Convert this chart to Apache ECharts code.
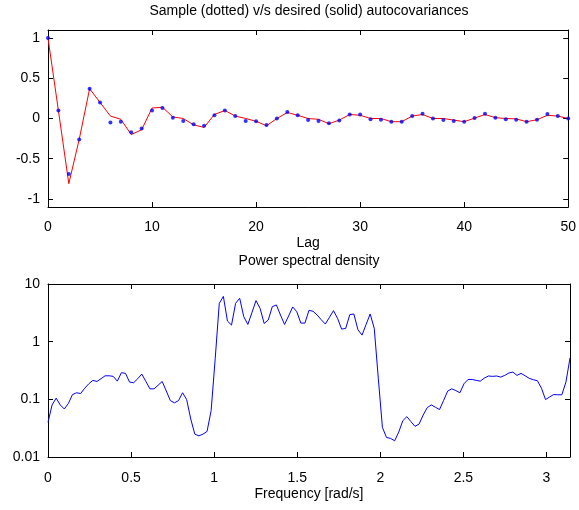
<!DOCTYPE html>
<html>
<head>
<meta charset="utf-8">
<script src="https://cdn.jsdelivr.net/npm/echarts@6/dist/echarts.min.js"></script>
<style>
  html, body { margin: 0; padding: 0; background: #fff; }
  #chart { width: 579px; height: 510px; }
</style>
</head>
<body>
<div id="chart"></div>
<script>
// sample autocovariance (blue dots), lags 0..50
const sampleAcov = [
  1, 0.10, -0.69, -0.26, 0.37, 0.20, -0.05, -0.04, -0.17, -0.125,
  0.10, 0.13, 0.01, -0.03, -0.07, -0.09, 0.04, 0.10, 0.03, -0.03,
  -0.035, -0.08, 0.0, 0.08, 0.04, -0.02, -0.03, -0.06, -0.025, 0.05,
  0.05, -0.01, -0.015, -0.04, -0.04, 0.03, 0.06, 0.0, -0.02, -0.03,
  -0.04, 0.005, 0.06, 0.01, -0.01, -0.015, -0.04, -0.015, 0.055, 0.03,
  0.0
]
// desired autocovariance (red line)
const desiredAcov = [
  1, 0.10, -0.81, -0.26, 0.37, 0.20, 0.03, -0.01, -0.20, -0.14,
  0.13, 0.14, 0.02, 0.0, -0.08, -0.11, 0.05, 0.10, 0.03, 0.0,
  -0.035, -0.09, 0.0, 0.075, 0.04, 0.0, -0.01, -0.065, -0.02, 0.05,
  0.04, 0.0, 0.0, -0.04, -0.04, 0.03, 0.05, 0.0, 0.0, -0.02,
  -0.04, 0.005, 0.05, 0.01, 0.0, -0.005, -0.04, -0.015, 0.04, 0.03,
  0.0
]
// power spectral density, 129 points on [0, pi]
const psd = [
  0.040, 0.080, 0.105, 0.080, 0.068, 0.085, 0.121, 0.130, 0.126, 0.156,
  0.186, 0.213, 0.204, 0.228, 0.256, 0.256, 0.250, 0.207, 0.290, 0.282,
  0.199, 0.194, 0.228, 0.274, 0.204, 0.152, 0.152, 0.176, 0.204, 0.140,
  0.095, 0.087, 0.095, 0.130, 0.099, 0.0456, 0.0249, 0.0233, 0.0249, 0.0278,
  0.0637, 0.508, 4.63, 6.1, 2.28, 1.94, 4.63, 5.66, 2.71, 1.99,
  3.18, 5.15, 3.79, 2.07, 2.37, 4.05, 4.33, 2.90, 1.99, 2.79,
  4.00, 3.31, 2.10, 2.10, 3.50, 3.36, 2.90, 2.40, 2.02, 2.64,
  3.45, 2.54, 1.65, 1.70, 2.94, 3.02, 1.61, 1.30, 1.99, 3.02,
  1.70, 0.228, 0.0326, 0.0218, 0.0210, 0.0191, 0.027, 0.0426, 0.0501, 0.0410,
  0.0340, 0.0373, 0.0535, 0.0719, 0.0800, 0.0729, 0.0664, 0.0953, 0.139, 0.152,
  0.142, 0.130, 0.186, 0.221, 0.221, 0.213, 0.207, 0.234, 0.254, 0.250,
  0.254, 0.243, 0.260, 0.286, 0.297, 0.260, 0.282, 0.256, 0.231, 0.219,
  0.210, 0.156, 0.099, 0.110, 0.121, 0.120, 0.120, 0.199, 0.522
]
const lagTicks = [0, 10, 20, 30, 40, 50]
const acovTicks = [-1, -0.5, 0, 0.5, 1]
const freqTicks = [0, 0.5, 1, 1.5, 2, 2.5, 3]

const lags = sampleAcov.map((v, i) => i)
const freqs = psd.map((v, i) => i * Math.PI / (psd.length - 1))

const FONT = 'Liberation Sans, Arial, Helvetica, sans-serif'
const FS = 14

// MATLAB style box: ticks inside on all four sides
const boxAxis = (extra) => Object.assign({
  axisLine: { show: true, onZero: false, lineStyle: { color: '#000', width: 1 } },
  axisTick: { show: true, inside: true, length: 5, lineStyle: { color: '#000' } },
  splitLine: { show: false },
  axisLabel: { color: '#000', fontFamily: FONT, fontSize: FS }
}, extra)

const chart = echarts.init(document.getElementById('chart'), null, { renderer: 'canvas' })

const option = {
  animation: false,
  backgroundColor: '#fff',
  title: [
    { text: 'Sample (dotted) v/s desired (solid) autocovariances', left: 309, top: 4, textAlign: 'center', padding: 0,
      textStyle: { fontFamily: FONT, fontSize: FS, fontWeight: 'normal', color: '#000' } },
    { text: 'Power spectral density', left: 309, top: 254, textAlign: 'center', padding: 0,
      textStyle: { fontFamily: FONT, fontSize: FS, fontWeight: 'normal', color: '#000' } }
  ],
  grid: [
    { left: 48, top: 30, right: 9, height: 177 },
    { left: 48, top: 284, right: 9, height: 173 }
  ],
  xAxis: [
    boxAxis({
      type: 'value', gridIndex: 0, min: 0, max: 50, position: 'bottom',
      axisTick: { show: true, inside: true, length: 5, lineStyle: { color: '#000' }, customValues: lagTicks },
      axisLabel: { color: '#000', fontFamily: FONT, fontSize: FS, margin: 13, customValues: lagTicks },
      name: 'Lag', nameLocation: 'middle', nameGap: 29,
      nameTextStyle: { color: '#000', fontFamily: FONT, fontSize: FS }
    }),
    boxAxis({
      type: 'value', gridIndex: 0, min: 0, max: 50, position: 'top',
      axisTick: { show: true, inside: true, length: 5, lineStyle: { color: '#000' }, customValues: lagTicks },
      axisLabel: { show: false }
    }),
    boxAxis({
      type: 'value', gridIndex: 1, min: 0, max: Math.PI, position: 'bottom',
      axisTick: { show: true, inside: true, length: 5, lineStyle: { color: '#000' }, customValues: freqTicks },
      axisLabel: { color: '#000', fontFamily: FONT, fontSize: FS, margin: 14, customValues: freqTicks },
      name: 'Frequency [rad/s]', nameLocation: 'middle', nameGap: 30,
      nameTextStyle: { color: '#000', fontFamily: FONT, fontSize: FS }
    }),
    boxAxis({
      type: 'value', gridIndex: 1, min: 0, max: Math.PI, position: 'top',
      axisTick: { show: true, inside: true, length: 5, lineStyle: { color: '#000' }, customValues: freqTicks },
      axisLabel: { show: false }
    })
  ],
  yAxis: [
    boxAxis({
      type: 'value', gridIndex: 0, min: -1.1, max: 1.1, position: 'left',
      axisTick: { show: true, inside: true, length: 5, lineStyle: { color: '#000' }, customValues: acovTicks },
      axisLabel: { color: '#000', fontFamily: FONT, fontSize: FS, margin: 8, customValues: acovTicks }
    }),
    boxAxis({
      type: 'value', gridIndex: 0, min: -1.1, max: 1.1, position: 'right',
      axisTick: { show: true, inside: true, length: 5, lineStyle: { color: '#000' }, customValues: acovTicks },
      axisLabel: { show: false }
    }),
    boxAxis({
      type: 'log', logBase: 10, gridIndex: 1, min: 0.01, max: 10, position: 'left',
      axisLabel: { color: '#000', fontFamily: FONT, fontSize: FS, margin: 8,
        formatter: (v) => String(+v.toPrecision(3)) }
    }),
    boxAxis({
      type: 'log', logBase: 10, gridIndex: 1, min: 0.01, max: 10, position: 'right',
      axisLabel: { show: false }
    })
  ],
  series: [
    {
      name: 'desired', type: 'line', xAxisIndex: 0, yAxisIndex: 0,
      data: lags.map((l, i) => [l, desiredAcov[i]]),
      showSymbol: false, lineStyle: { color: '#ff0000', width: 1 }, z: 2
    },
    {
      name: 'sample', type: 'scatter', xAxisIndex: 0, yAxisIndex: 0,
      data: lags.map((l, i) => [l, sampleAcov[i]]),
      symbol: 'circle', symbolSize: 4, itemStyle: { color: '#0000ff' }, z: 3
    },
    {
      name: 'psd', type: 'line', xAxisIndex: 2, yAxisIndex: 2,
      data: freqs.map((f, i) => [f, psd[i]]),
      showSymbol: false, lineStyle: { color: '#0000ff', width: 1 }
    }
  ]
}

chart.setOption(option)
</script>
</body>
</html>
